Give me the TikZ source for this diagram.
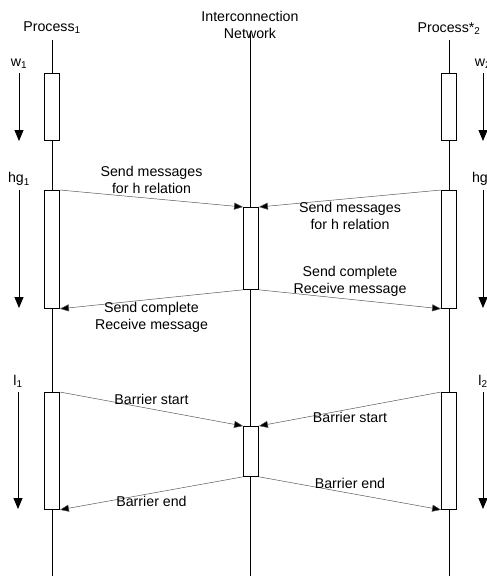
\documentclass[tikz,border=0pt]{standalone}
\usepackage{fontspec}
\setmainfont{Liberation Sans}
\usepackage{tikz}
\usetikzlibrary{positioning,arrows.meta}

\begin{document}
\begin{tikzpicture}[
  x=1pt, y=-1pt,
  font=\fontsize{14.2}{17}\selectfont,
  life/.style={draw=black, line width=0.7pt},
  actbox/.style={draw=black, fill=white, line width=0.8pt, minimum width=15pt, inner sep=0pt, anchor=north},
  msg/.style={draw=gray!70!black, line width=0.5pt, -{Triangle[length=9pt,width=7pt,fill=black]}},
  timearrow/.style={draw=black, line width=0.8pt, -{Triangle[length=11pt,width=9pt]}},
  msglabel/.style={align=center, inner sep=0pt},
  steplabel/.style={anchor=south, inner sep=0pt}
]
\useasboundingbox (0,0) rectangle (487,576);

% ========== Headers ==========
\node (p1name) at (52,28) {Process\textsubscript{1}};
\node[align=center] (netname) at (250,25) {Interconnection\\Network};
\node (p2name) at (449,29) {Process*\textsubscript{2}};

% ========== Lifelines ==========
\coordinate (p1top) at (52,40);   \coordinate (p1bot) at (52,576);
\coordinate (nettop) at (250,32); \coordinate (netbot) at (250,576);
\coordinate (p2top) at (449,40);  \coordinate (p2bot) at (449,576);
\draw[life] (p1top) -- (p1bot);
\draw[life] (nettop) -- (netbot);
\draw[life] (p2top) -- (p2bot);

% ========== Phase w: local computation ==========
\node[actbox, minimum height=67pt] (p1w) at (52,73) {};
\node[actbox, minimum height=67pt] (p2w) at (449,73) {};

\coordinate (w1s) at (19,73);  \coordinate (w1e) at (19,141);
\coordinate (w2s) at (483,73); \coordinate (w2e) at (483,141);
\draw[timearrow] (w1s) -- (w1e);
\draw[timearrow] (w2s) -- (w2e);
\node[steplabel] (w1lbl) at ([yshift=4pt]w1s) {w\textsubscript{1}};
\node[steplabel] (w2lbl) at ([yshift=4pt]w2s) {w\textsubscript{2}};

% ========== Phase hg: communication ==========
\node[actbox, minimum height=118pt] (p1hg) at (52,190) {};
\node[actbox, minimum height=82pt] (nethg) at (251,207) {};
\node[actbox, minimum height=118pt] (p2hg) at (449,190) {};

\coordinate (hg1s) at (19,190);  \coordinate (hg1e) at (19,308);
\coordinate (hg2s) at (483,190); \coordinate (hg2e) at (483,308);
\draw[timearrow] (hg1s) -- (hg1e);
\draw[timearrow] (hg2s) -- (hg2e);
\node[steplabel] (hg1lbl) at ([yshift=4pt]hg1s) {hg\textsubscript{1}};
\node[steplabel] (hg2lbl) at ([yshift=4pt]hg2s) {hg\textsubscript{2}};

\draw[msg] (p1hg.north east) -- (nethg.north west)
  node[msglabel, midway, yshift=18.5pt] {Send messages\\for h relation};
\draw[msg] (p2hg.north west) -- (nethg.north east)
  node[msglabel, midway, yshift=-17.5pt] {Send messages\\for h relation};
\draw[msg] (nethg.south west) -- (p1hg.south east)
  node[msglabel, midway, yshift=-18.5pt] {Send complete\\Receive message};
\draw[msg] (nethg.south east) -- (p2hg.south west)
  node[msglabel, midway, yshift=17.5pt] {Send complete\\Receive message};

% ========== Phase l: barrier ==========
\node[actbox, minimum height=117pt] (p1l) at (52,392) {};
\node[actbox, minimum height=50pt] (netl) at (251,426) {};
\node[actbox, minimum height=117pt] (p2l) at (449,392) {};

\coordinate (l1s) at (18,392);  \coordinate (l1e) at (18,509);
\coordinate (l2s) at (483,392); \coordinate (l2e) at (483,509);
\draw[timearrow] (l1s) -- (l1e);
\draw[timearrow] (l2s) -- (l2e);
\node[steplabel] (l1lbl) at ([yshift=4pt]l1s) {l\textsubscript{1}};
\node[steplabel] (l2lbl) at ([yshift=4pt]l2s) {l\textsubscript{2}};

\draw[msg] (p1l.north east) -- (netl.north west)
  node[msglabel, midway, yshift=10pt] {Barrier start};
\draw[msg] (p2l.north west) -- (netl.north east)
  node[msglabel, midway, yshift=-8pt] {Barrier start};
\draw[msg] (netl.south west) -- (p1l.south east)
  node[msglabel, midway, yshift=-8.5pt] {Barrier end};
\draw[msg] (netl.south east) -- (p2l.south west)
  node[msglabel, midway, yshift=9.5pt] {Barrier end};

\end{tikzpicture}
\end{document}
